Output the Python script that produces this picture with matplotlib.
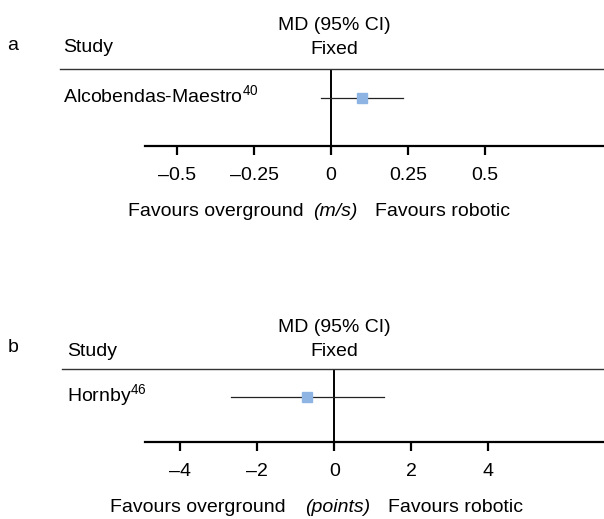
import matplotlib
matplotlib.use("Agg")
from matplotlib import pyplot as plt
from matplotlib.lines import Line2D

plt.rcParams['font.family'] = ['Liberation Sans', 'DejaVu Sans']
plt.rcParams['mathtext.fontset'] = 'custom'
plt.rcParams['mathtext.rm'] = 'Liberation Sans'

# panel a: gait speed
a_study = "Alcobendas-Maestro"
a_ref = "40"
a_md = 0.10
a_lo = -0.033
a_hi = 0.234
a_ticks = [-0.5, -0.25, 0, 0.25, 0.5]
a_ticklabels = ["–0.5", "–0.25", "0", "0.25", "0.5"]
a_xlim = (-0.604, 0.886)
a_unit = "(m/s)"

# panel b: points
b_study = "Hornby"
b_ref = "46"
b_md = -0.70
b_lo = -2.68
b_hi = 1.30
b_ticks = [-4, -2, 0, 2, 4]
b_ticklabels = ["–4", "–2", "0", "2", "4"]
b_xlim = (-4.91, 7.0)
b_unit = "(points)"

W, H = 604, 519
FS = 14
fig = plt.figure(figsize=(W / 100, H / 100), dpi=100)


def fx(x):
    return x / W


def fy(y):
    return 1 - y / H


def panel(letter, top, study, ref, md, lo, hi, ticks, labels, xlim, unit,
          ax_top, ax_bot, head_left, name_x, unit_cx, left_end, right_start):
    ax = fig.add_axes([fx(145), fy(ax_bot), 1 - fx(145), (ax_bot - ax_top) / H])
    ax.set_xlim(*xlim)
    ax.set_ylim(0, 1)
    for s in ["top", "right", "left"]:
        ax.spines[s].set_visible(False)
    ax.spines["bottom"].set_linewidth(1.6)
    ax.set_yticks([])
    ax.set_xticks(ticks)
    ax.set_xticklabels(labels, fontsize=FS)
    ax.tick_params(axis="x", direction="out", length=6.5, width=1.6, pad=8.5)
    ax.axvline(0, color="black", lw=1.4)
    ax.plot([lo, hi], [0.62, 0.62], color="#222222", lw=0.9)
    ax.plot([md], [0.62], marker="s", ms=7.5, color="#8db4e2", lw=0)

    # header rule
    fig.add_artist(Line2D([fx(head_left), 1], [fy(ax_top), fy(ax_top)],
                          color="#333333", lw=1.0))
    fig.text(fx(13), fy(top + 20), letter, fontsize=FS, ha="center", va="center")
    fig.text(fx(name_x), fy(top + 23), "Study", fontsize=FS, va="center")
    fig.text(fx(334), fy(top), "MD (95% CI)", fontsize=FS, ha="center", va="center")
    fig.text(fx(334), fy(top + 24), "Fixed", fontsize=FS, ha="center", va="center")
    fig.text(fx(name_x), fy(ax_top + 27), study + "$^{" + ref + "}$",
             fontsize=FS, va="center")
    yb = ax_bot + 66
    fig.text(fx(left_end), fy(yb), "Favours overground", fontsize=FS,
             ha="right", va="center")
    fig.text(fx(unit_cx), fy(yb), unit, fontsize=FS, style="italic",
             ha="center", va="center")
    fig.text(fx(right_start), fy(yb), "Favours robotic", fontsize=FS,
             ha="left", va="center")


panel("a", 25, a_study, a_ref, a_md, a_lo, a_hi, a_ticks, a_ticklabels, a_xlim,
      a_unit, 69, 146, 60, 63, 335, 304, 375)
panel("b", 328, b_study, b_ref, b_md, b_lo, b_hi, b_ticks, b_ticklabels, b_xlim,
      b_unit, 369, 442, 62, 67, 338, 286, 388)

fig.savefig("out.png", dpi=100)
